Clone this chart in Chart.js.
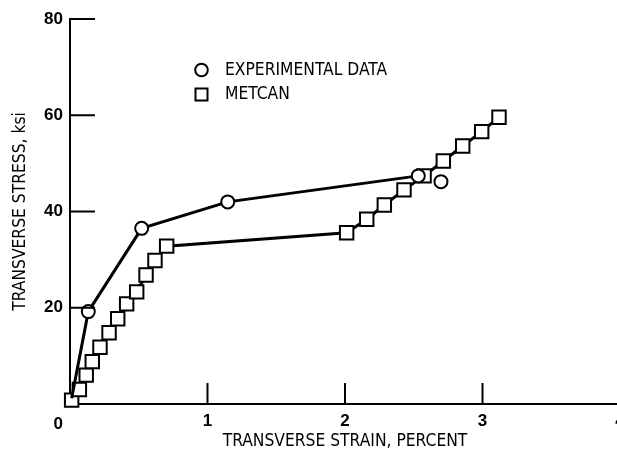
<!DOCTYPE html>
<html><head><meta charset="utf-8">
<script src="https://cdn.jsdelivr.net/npm/chart.js@4.4.1/dist/chart.umd.min.js"></script>
<style>html,body{margin:0;padding:0;background:#fff;overflow:hidden;width:617px;height:464px;} canvas{display:block;}</style>
</head><body>
<canvas id="c" width="640" height="464"></canvas>
<script>
const seriesNames = ['EXPERIMENTAL DATA', 'METCAN'];
const experimentalStrain = [0.012, 0.133, 0.521, 1.147, 2.533, null, 2.698];
const experimentalStress = [1.2, 19.2, 36.5, 42.0, 47.4, null, 46.2];
const metcanStrain = [0.012, 0.068, 0.118, 0.162, 0.218, 0.284, 0.347, 0.412, 0.485, 0.553, 0.618, 0.703, 2.012, 2.158, 2.286, 2.429, 2.575, 2.715, 2.856, 2.994, 3.12];
const metcanStress = [0.8, 3.0, 6.0, 8.8, 11.8, 14.8, 17.7, 20.8, 23.3, 26.8, 29.8, 32.8, 35.6, 38.4, 41.35, 44.5, 47.4, 50.5, 53.6, 56.6, 59.6];
const xTicks = [0, 1, 2, 3, 4];
const yTicks = [0, 20, 40, 60, 80];
const xTitle = 'TRANSVERSE STRAIN, PERCENT';
const yTitle = 'TRANSVERSE STRESS, ksi';

const titleFont = {family: "'DejaVu Sans Condensed', 'DejaVu Sans', sans-serif", size: 17.3, weight: 'normal'};
const tickFont = {family: "'Liberation Sans', Arial, sans-serif", size: 17, weight: 'bold'};

const toPts = (xs, ys) => xs.map((x, i) => ({x: x, y: ys[i]}));

const inwardTicks = {
  id: 'inwardTicks',
  afterDatasetsDraw(chart) {
    const ctx = chart.ctx, xs = chart.scales.x, ys = chart.scales.y, a = chart.chartArea;
    ctx.save();
    ctx.strokeStyle = '#000';
    ctx.lineWidth = 2;
    ctx.beginPath();
    yTicks.forEach(v => { if (v === 0) return; const p = ys.getPixelForValue(v); ctx.moveTo(a.left, p); ctx.lineTo(a.left + 25, p); });
    xTicks.forEach(v => { if (v === 0) return; const p = xs.getPixelForValue(v); ctx.moveTo(p, a.bottom); ctx.lineTo(p, a.bottom - 21); });
    ctx.stroke();
    ctx.restore();
  }
};

const legendPlugin = {
  id: 'insetLegend',
  afterDraw(chart) {
    const ctx = chart.ctx;
    ctx.save();
    ctx.strokeStyle = '#000';
    ctx.fillStyle = '#fff';
    ctx.lineWidth = 2;
    const mx = 201.5;
    ctx.beginPath(); ctx.arc(mx, 70, 6.3, 0, Math.PI * 2); ctx.fill(); ctx.stroke();
    ctx.beginPath(); ctx.rect(mx - 6, 94.5 - 6, 12, 12); ctx.fill(); ctx.stroke();
    ctx.fillStyle = '#000';
    ctx.font = `${titleFont.weight} ${titleFont.size}px ${titleFont.family}`;
    ctx.textBaseline = 'middle';
    ctx.textAlign = 'left';
    ctx.fillText(chart.data.datasets[0].label, 225, 71);
    ctx.fillText(chart.data.datasets[1].label, 225, 95);
    ctx.restore();
  }
};

new Chart(document.getElementById('c'), {
  type: 'scatter',
  data: {
    datasets: [
      {
        label: seriesNames[0],
        data: toPts(experimentalStrain, experimentalStress),
        showLine: true, spanGaps: false, clip: false,
        borderColor: '#000', borderWidth: 3,
        pointStyle: 'circle',
        pointRadius: ctx => ctx.dataIndex === 0 ? 0 : 6.5,
        pointBackgroundColor: '#fff', pointBorderColor: '#000', pointBorderWidth: 2,
        order: 1
      },
      {
        label: seriesNames[1],
        data: toPts(metcanStrain, metcanStress),
        showLine: true, clip: false,
        borderColor: '#000', borderWidth: 3,
        pointStyle: 'rect', pointRadius: 9.5,
        pointBackgroundColor: '#fff', pointBorderColor: '#000', pointBorderWidth: 2,
        order: 2
      }
    ]
  },
  options: {
    responsive: false,
    animation: false,
    layout: {padding: {left: 0, top: 19, right: 20, bottom: 0}},
    plugins: {legend: {display: false}, tooltip: {enabled: false}},
    scales: {
      x: {
        type: 'linear', min: 0, max: 4,
        afterBuildTicks: s => { s.ticks = xTicks.map(v => ({value: v})); },
        afterFit: s => { s.height = 60; },
        grid: {drawOnChartArea: false, drawTicks: false},
        border: {display: true, color: '#000', width: 2},
        ticks: {color: '#000', font: tickFont, padding: 7, maxRotation: 0, autoSkip: false,
          callback: v => v === 0 ? '' : String(v)},
        title: {display: true, text: xTitle, color: '#000', font: titleFont, padding: {top: 0, bottom: 12}}
      },
      y: {
        type: 'linear', min: 0, max: 80,
        afterBuildTicks: s => { s.ticks = yTicks.map(v => ({value: v})); },
        afterFit: s => { s.width = 70; },
        grid: {drawOnChartArea: false, drawTicks: false},
        border: {display: true, color: '#000', width: 2},
        ticks: {color: '#000', font: tickFont, padding: 7, autoSkip: false,
          callback: v => v === 0 ? ['', '', '0'] : String(v)},
        title: {display: true, text: yTitle, color: '#000', font: titleFont, padding: {top: 10, bottom: 0}}
      }
    }
  },
  plugins: [inwardTicks, legendPlugin]
});
</script>
</body></html>
